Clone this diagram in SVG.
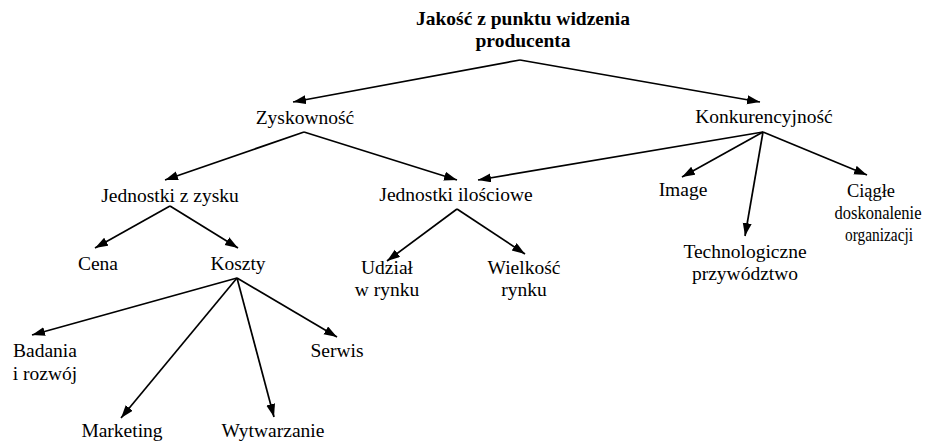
<svg xmlns="http://www.w3.org/2000/svg" width="926" height="444" viewBox="0 0 926 444">
<style>
text{font-family:'Liberation Serif','Times New Roman',Times,serif;font-size:19.5px;fill:#000;text-anchor:middle}
.b{font-weight:bold}
.c line{stroke:#000;stroke-width:1.7;marker-end:url(#ah)}
</style>
<defs>
<marker id="ah" markerUnits="userSpaceOnUse" markerWidth="14" markerHeight="10" refX="13" refY="4.5" orient="auto">
<path d="M0,0 L13,4.5 L0,9 z" fill="#000"/>
</marker>
</defs>
<rect width="926" height="444" fill="#fff"/>
<g id="connectors" class="c">
<line x1="520" y1="60" x2="293" y2="102"/>
<line x1="520" y1="60" x2="760" y2="102"/>
<line x1="304" y1="132" x2="165" y2="180"/>
<line x1="304" y1="132" x2="457" y2="180"/>
<line x1="763" y1="132" x2="478" y2="180"/>
<line x1="763" y1="132" x2="682" y2="177"/>
<line x1="763" y1="132" x2="745" y2="236"/>
<line x1="763" y1="132" x2="867" y2="175"/>
<line x1="170" y1="206" x2="95" y2="248"/>
<line x1="170" y1="206" x2="238" y2="248"/>
<line x1="457" y1="209" x2="387" y2="261"/>
<line x1="457" y1="209" x2="525" y2="254"/>
<line x1="237" y1="278" x2="32" y2="335"/>
<line x1="237" y1="278" x2="121" y2="418"/>
<line x1="237" y1="278" x2="274" y2="417"/>
<line x1="237" y1="278" x2="337" y2="337"/>
</g>
<g id="title"><text class="b" x="523" y="25">Jakość z punktu widzenia</text><text class="b" x="523" y="47">producenta</text></g>
<g id="zyskownosc"><text x="305" y="124">Zyskowność</text></g>
<g id="konkurencyjnosc"><text x="764" y="123">Konkurencyjność</text></g>
<g id="jednostki-z-zysku"><text x="170" y="202">Jednostki z zysku</text></g>
<g id="jednostki-ilosciowe"><text x="456" y="201">Jednostki ilościowe</text></g>
<g id="image"><text x="683" y="196">Image</text></g>
<g id="ciagle"><text x="871" y="197" textLength="48" lengthAdjust="spacingAndGlyphs">Ciągłe</text><text x="878" y="219" textLength="87" lengthAdjust="spacingAndGlyphs">doskonalenie</text><text x="879" y="241" textLength="68" lengthAdjust="spacingAndGlyphs">organizacji</text></g>
<g id="technologiczne"><text x="745" y="258">Technologiczne</text><text x="745" y="280">przywództwo</text></g>
<g id="cena"><text x="98" y="270">Cena</text></g>
<g id="koszty"><text x="238" y="270">Koszty</text></g>
<g id="udzial"><text x="387" y="274">Udział</text><text x="387" y="296">w rynku</text></g>
<g id="wielkosc"><text x="524" y="274">Wielkość</text><text x="524" y="296">rynku</text></g>
<g id="badania"><text x="45" y="357">Badania</text><text x="45" y="380">i rozwój</text></g>
<g id="serwis"><text x="337" y="357">Serwis</text></g>
<g id="marketing"><text x="122" y="437">Marketing</text></g>
<g id="wytwarzanie"><text x="273" y="437">Wytwarzanie</text></g>
</svg>
